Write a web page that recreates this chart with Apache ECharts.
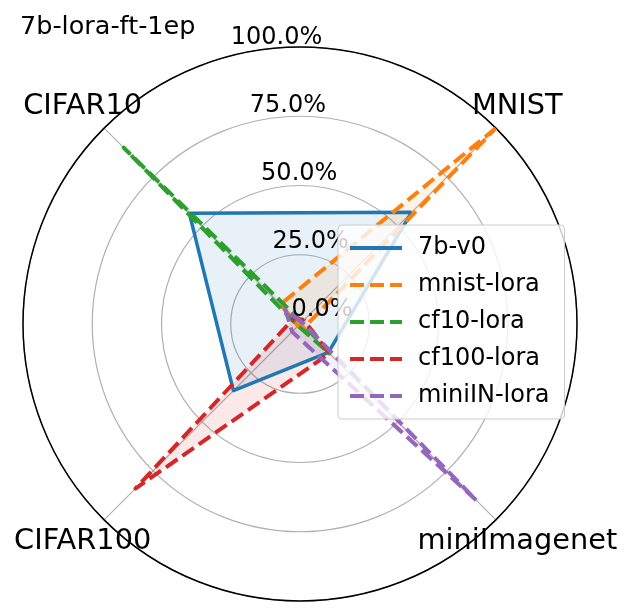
<!DOCTYPE html>
<html>
<head>
<meta charset="utf-8">
<script src="https://cdn.jsdelivr.net/npm/echarts@6/dist/echarts.min.js"></script>
<style>
  html, body { margin: 0; padding: 0; background: #ffffff; }
  #chart { width: 634px; height: 616px; }
</style>
</head>
<body>
<div id="chart"></div>
<script>
// ---- data ----
const chartTitle = '7b-lora-ft-1ep';
const categories = ['MNIST', 'CIFAR10', 'CIFAR100', 'miniImagenet'];
const categoryAngles = [0, 90, 180, 270];
const radialTicks = [0, 0.25, 0.5, 0.75, 1.0];
const seriesNames = ['7b-v0', 'mnist-lora', 'cf10-lora', 'cf100-lora', 'miniIN-lora'];
const v7b = [0.57, 0.565, 0.34, 0.145];
const mnistLora = [1.0, 0.10, 0.01, 0.02];
const cf10Lora = [0.01, 0.90, 0.01, 0.15];
const cf100Lora = [0.02, 0.03, 0.84, 0.15];
const miniINLora = [0.01, 0.075, 0.04, 0.90];
const seriesValues = [v7b, mnistLora, cf10Lora, cf100Lora, miniINLora];

// ---- styles ----
const FONT = 'DejaVu Sans';
const colors = ['#1f77b4', '#ff7f0e', '#2ca02c', '#d62728', '#9467bd'];
const lineTypes = ['solid', [14, 6], [14, 6], [14, 6], [14, 6]];
const lineWidths = [3.5, 4, 4, 4, 4];

function closedLoop(vals) {
  const pts = vals.map((v, i) => [v, categoryAngles[i]]);
  pts.push([vals[0], 360]);
  return pts;
}

const series = seriesValues.map((vals, k) => ({
  name: seriesNames[k],
  type: 'line',
  coordinateSystem: 'polar',
  polarIndex: 0,
  data: closedLoop(vals),
  symbol: 'none',
  showSymbol: false,
  smooth: false,
  clip: false,
  lineStyle: { color: colors[k], width: lineWidths[k], type: lineTypes[k], join: 'round', cap: 'butt' },
  itemStyle: { color: colors[k] },
  areaStyle: { color: colors[k], opacity: 0.1 },
  z: 2
}));

const chart = echarts.init(document.getElementById('chart'), null, { renderer: 'canvas' });
chart.setOption({
  animation: false,
  backgroundColor: '#ffffff',
  textStyle: { fontFamily: FONT },
  title: {
    text: chartTitle,
    left: 20,
    top: 14,
    padding: 0,
    textStyle: { fontFamily: FONT, fontSize: 25.5, fontWeight: 'normal', color: '#000' }
  },
  legend: {
    orient: 'vertical',
    left: 338,
    top: 225,
    data: seriesNames,
    itemWidth: 52,
    itemHeight: 14,
    itemGap: 13,
    padding: [11, 15, 11, 10],
    backgroundColor: 'rgba(255,255,255,0.8)',
    borderColor: '#cccccc',
    borderWidth: 1,
    borderRadius: 4,
    z: 6,
    itemStyle: { opacity: 0 },
    lineStyle: { width: 4 },
    textStyle: { fontFamily: FONT, fontSize: 24, color: '#000', lineHeight: 24, padding: [0, 0, 0, 11] }
  },
  polar: [
    { center: [300, 324], radius: 277 },
    { center: [322, 310], radius: 276 }
  ],
  angleAxis: [
    {
      polarIndex: 0,
      type: 'value',
      min: 0,
      max: 360,
      interval: 90,
      startAngle: 45,
      clockwise: false,
      z: 1,
      axisLine: { show: true, lineStyle: { color: '#000', width: 1.5 } },
      axisTick: { show: false },
      splitLine: { show: true, lineStyle: { color: '#b0b0b0', width: 1.2 } },
      axisLabel: {
        show: true,
        margin: -121,
        formatter: function (v) {
          const i = categoryAngles.indexOf(v);
          return i >= 0 ? '{c|' + categories[i] + '}' : '';
        },
        rich: {
          c: {
            width: 214,
            lineHeight: 214,
            align: 'center',
            verticalAlign: 'middle',
            fontSize: 28.8,
            fontFamily: FONT,
            color: '#000'
          }
        }
      }
    },
    {
      polarIndex: 1,
      type: 'value',
      min: 0,
      max: 360,
      startAngle: 99.5,
      clockwise: false,
      axisLine: { show: false },
      axisTick: { show: false },
      splitLine: { show: false },
      axisLabel: { show: false }
    }
  ],
  radiusAxis: [
    {
      polarIndex: 0,
      type: 'value',
      min: 0,
      max: 1,
      interval: 0.25,
      z: 0,
      axisLine: { show: false },
      axisTick: { show: false },
      axisLabel: { show: false },
      splitLine: { show: true, lineStyle: { color: '#b0b0b0', width: 1.2 } }
    },
    {
      polarIndex: 1,
      type: 'value',
      min: radialTicks[0],
      max: radialTicks[radialTicks.length - 1],
      interval: 0.25,
      z: 3,
      axisLine: { show: false },
      axisTick: { show: false },
      splitLine: { show: false },
      axisLabel: {
        show: true,
        margin: 0,
        align: 'center',
        verticalAlign: 'middle',
        fontSize: 24,
        fontFamily: FONT,
        color: '#000',
        formatter: function (v) { return (v * 100).toFixed(1) + '%'; }
      }
    }
  ],
  series: series
});
</script>
</body>
</html>
